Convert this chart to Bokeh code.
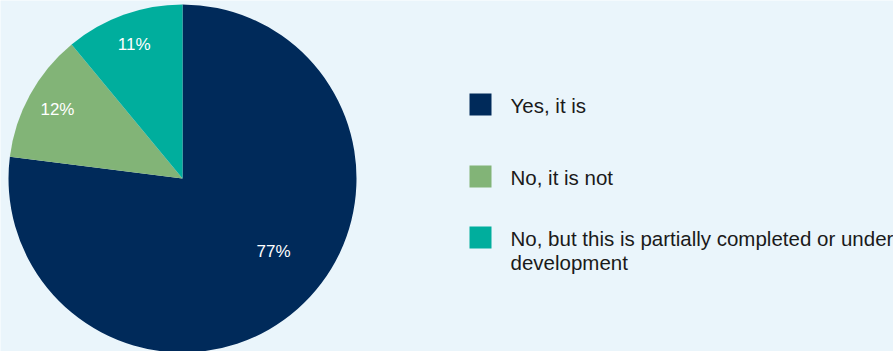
import math
from bokeh.plotting import figure
from bokeh.models import Range1d
from bokeh.core.properties import value
from bokeh.embed import file_html
from bokeh.resources import INLINE

# Survey answers and their shares (%)
categories = ["Yes, it is", "No, it is not", "No, but this is partially completed or under\ndevelopment"]
shares = [77, 12, 11]
share_labels = ["77%", "12%", "11%"]
colors = ["#002a5a", "#82b477", "#00ae9d"]

W, H = 893, 351
BG = "#eaf5fb"
FONT = "Liberation Sans"

p = figure(width=W, height=H, output_backend="svg", toolbar_location=None,
           x_range=Range1d(0, W), y_range=Range1d(0, H), min_border=0)
p.axis.visible = False
p.grid.visible = False
p.outline_line_color = None
p.background_fill_color = BG
p.border_fill_color = BG

# pie geometry (1 data unit == 1 pixel)
cx, cy, r = 182, H - 178, 174
total = sum(shares)
starts, ends = [], []
cum = 0.0
for s in shares:
    starts.append(math.pi / 2 - 2 * math.pi * cum / total)
    cum += s
    ends.append(math.pi / 2 - 2 * math.pi * cum / total)

p.wedge(x=cx, y=cy, radius=r, start_angle=starts, end_angle=ends,
        direction="clock", fill_color=colors, line_color=None)

# percentage labels inside the slices
label_frac = [0.464, 0.5, 0.5]   # position along each slice
label_rad = [0.67, 0.82, 0.82]   # distance from centre, fraction of radius
lx, ly = [], []
for a0, a1, f, k in zip(starts, ends, label_frac, label_rad):
    a = a0 + (a1 - a0) * f
    lx.append(cx + k * r * math.cos(a))
    ly.append(cy + k * r * math.sin(a))
p.text(x=lx, y=ly, text=share_labels, text_color="white",
       text_font=value(FONT), text_font_size="17px",
       text_align="center", text_baseline="middle")

# legend: swatches plus one text item per label line
sq_x, sq = 480, 22
txt_x = 510
rows_y = [H - 104, H - 176, H - 237]
line_gap = 23.5
p.rect(x=[sq_x] * 3, y=rows_y, width=sq, height=sq, fill_color=colors, line_color=None)
tx, ty, tt = [], [], []
for label, y in zip(categories, rows_y):
    for i, line in enumerate(label.split("\n")):
        tx.append(txt_x)
        ty.append(y - 1 - i * line_gap)
        tt.append(line)
p.text(x=tx, y=ty, text=tt, text_color="#1a1a1a",
       text_font=value(FONT), text_font_size="20.5px",
       text_align="left", text_baseline="alphabetic")

open("out.html", "w").write(file_html(p, INLINE))
